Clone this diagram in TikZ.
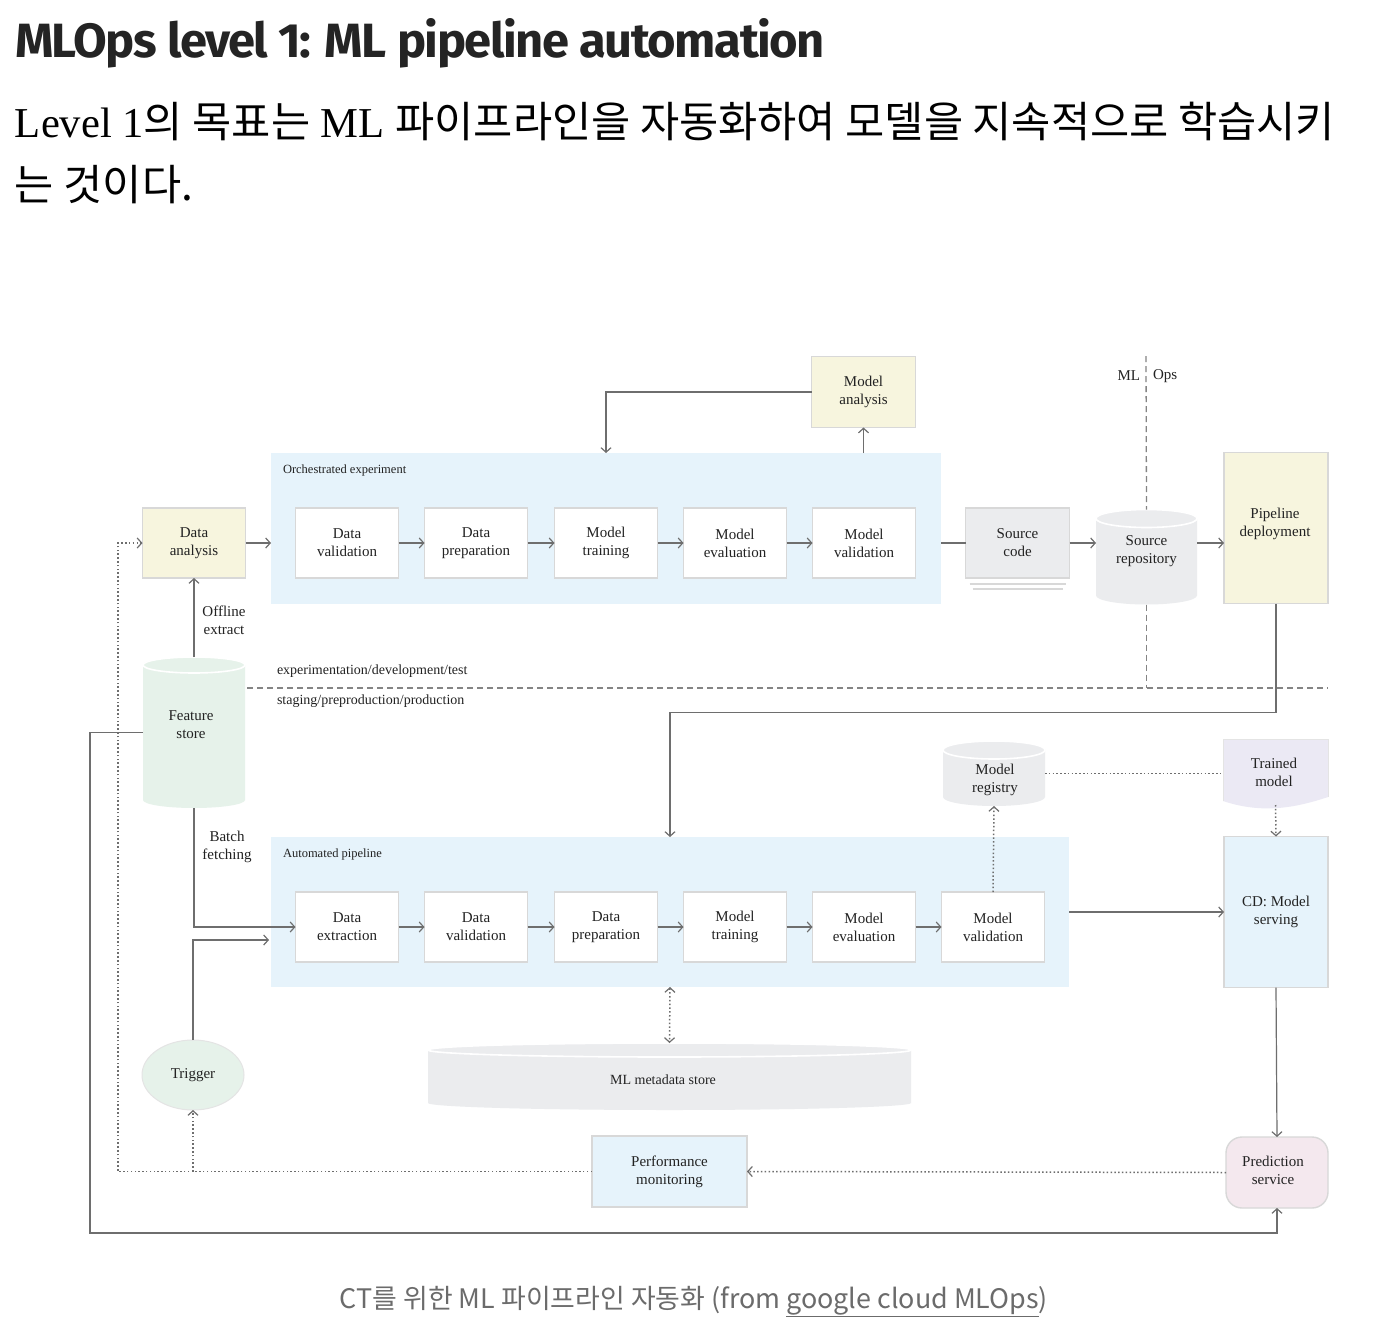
\documentclass[tikz,border=0pt]{standalone}
\usepackage{fontspec}
\setmainfont{Liberation Serif}
\newfontfamily\cjk{Noto Sans CJK KR}
\newfontfamily\titlefont[LetterSpace=-3]{Fira Sans}
\usetikzlibrary{arrows.meta,calc,shapes.geometric}

\definecolor{lineg}{HTML}{6E6E6E}
\definecolor{boxb}{HTML}{D8D8D8}
\definecolor{regblue}{HTML}{E6F3FB}
\definecolor{yel}{HTML}{F7F5DE}
\definecolor{gry}{HTML}{EBECEE}
\definecolor{grn}{HTML}{E6F2EA}
\definecolor{lav}{HTML}{EBE9F4}
\definecolor{pnk}{HTML}{F4E8EE}
\definecolor{capg}{HTML}{6B6B6B}
\definecolor{txt}{HTML}{222222}
\definecolor{ttl}{HTML}{242424}

\newcommand\K[1]{{\cjk #1}}
\newsavebox\lineA
\newsavebox\lineB

% cylinder: name, cx, cy, half width, half height, ry, fill, text
\newcommand\mycyl[8]{%
  \fill[#7] (#2-#4,#3-#5+#6) -- (#2-#4,#3+#5-#6)
     arc[start angle=180,end angle=360,x radius=#4pt,y radius=#6pt]
     -- (#2+#4,#3-#5+#6)
     arc[start angle=0,end angle=180,x radius=#4pt,y radius=#6pt] -- cycle;
  \draw[white,line width=1.6pt,fill=#7] (#2,#3-#5+#6) ellipse[x radius=#4pt,y radius=#6pt];
  \node[minimum width=2*#4pt, minimum height=2*#5pt] (#1) at (#2,#3) {};
}

\begin{document}
\sbox\lineA{\fontsize{36}{40}\selectfont Level 1\K{의 목표는} ML \K{파이프라인을 자동화하여 모델을 지속적으로 학습시키}}
\sbox\lineB{\fontsize{36}{40}\selectfont \K{는 것이다.}}
\begin{tikzpicture}[x=1pt,y=-1pt,
  every node/.style={inner sep=0pt, outer sep=0pt, align=center, text=txt,
     font=\fontsize{15}{18}\selectfont},
  proc/.style={draw=boxb, line width=1.4pt, fill=white, minimum width=103pt, minimum height=70pt},
  yelbox/.style={proc, fill=yel},
  conn/.style={draw=lineg, line width=1.2pt},
  arr/.style={conn, -{Straight Barb[length=4.5pt,width=10pt,line width=1.2pt]}},
  dotl/.style={conn, line width=1.5pt, dash pattern=on 1.5pt off 2.3pt},
  dotarr/.style={dotl, -{Straight Barb[length=4.5pt,width=10pt,line width=1.2pt]}},
  dashg/.style={draw=lineg!85, line width=1.3pt, dash pattern=on 6pt off 4pt},
  lbl/.style={font=\fontsize{14}{17}\selectfont},
  small/.style={font=\fontsize{12.5}{15}\selectfont}
]
\fill[white] (0,0) rectangle (1374,1338);
\useasboundingbox (0,0) rectangle (1374,1338);

% ---------- header texts ----------
\node[anchor=base west, text=ttl] (title) at (15,57)
  {\resizebox{810pt}{39pt}{\titlefont\bfseries MLOps level 1: ML pipeline automation}};
\pgfmathsetmacro\kfac{1320/\the\wd\lineA}
\node[anchor=base west, text=ttl] (para1) at (15,137) {\scalebox{\kfac}{\usebox\lineA}};
\node[anchor=base west, text=ttl] (para2) at (15,200) {\scalebox{\kfac}{\usebox\lineB}};
\node[anchor=base, text=capg] (caption) at (694,1308)
  {\resizebox{708pt}{!}{\cjk\fontsize{24}{28}\selectfont CT를 위한 ML 파이프라인 자동화 (from \underline{google cloud MLOps})}};

% ---------- regions ----------
\node[fill=regblue, minimum width=670pt, minimum height=151pt] (orch) at (606,528.5) {};
\node[small, anchor=west] (orchlbl) at (283,470) {Orchestrated experiment};
\node[fill=regblue, minimum width=798pt, minimum height=150pt] (ap) at (670,912) {};
\node[small, anchor=west] (aplbl) at (283,854) {Automated pipeline};

% ---------- top row ----------
\node[yelbox] (da) at (194,543) {Data\\analysis};
\node[proc] (dv1) at (347,543) {Data\\validation};
\node[proc] (dp1) at (476,543) {Data\\preparation};
\node[proc] (mt1) at (606,543) {Model\\training};
\node[proc] (me1) at (735,543) {Model\\evaluation};
\node[proc] (mv1) at (864,543) {Model\\validation};
\node[yelbox, minimum width=104pt, minimum height=71pt] (ma) at (863.5,392) {Model\\analysis};
\node[proc, fill=gry, minimum width=104pt] (sc) at (1017.5,543) {Source\\code};
\draw[boxb, line width=1.3pt] ($(sc.south west)+(4,6)$) -- ($(sc.south east)+(-4,6)$);
\draw[boxb, line width=1.3pt] ($(sc.south west)+(7,11)$) -- ($(sc.south east)+(-7,11)$);
\mycyl{sr}{1146.5}{557}{50.5}{47.5}{9}{gry}{}
\node (srt) at (1146.5,551) {Source\\repository};
\node[yelbox, minimum width=104pt, minimum height=151pt] (pd) at (1276,528) {};
\node (pdt) at (1275,524) {Pipeline\\deployment};

% ---------- ML / Ops divider ----------
\coordinate (mlopsTop) at (1146,356);
\node[anchor=east] (mllbl) at (1140,376) {ML};
\node[anchor=west] (opslbl) at (1153,376) {Ops};
\draw[dashg] (mlopsTop) -- (sr.north);
\coordinate (sepL) at (247,688);
\coordinate (sepR) at (1328,688);
\draw[dashg] (sr.south) -- (sr.south |- sepL);
\draw[dashg] (sepL) -- (sepR);
\node[lbl, anchor=west] (envtop) at (277,671) {experimentation/development/test};
\node[lbl, anchor=west] (envbot) at (277,701) {staging/preproduction/production};

% ---------- feature store ----------
\mycyl{fs}{194}{732.5}{51}{75.5}{8}{grn}{}
\node (fst) at (191,725) {Feature\\store};
\node (offl) at (224,620) {Offline\\extract};
\node (batch) at (227,847) {Batch\\fetching};

% ---------- bottom row ----------
\node[proc] (de) at (347,927) {Data\\extraction};
\node[proc] (dv2) at (476,927) {Data\\validation};
\node[proc] (dp2) at (606,927) {Data\\preparation};
\node[proc] (mt2) at (735,927) {Model\\training};
\node[proc] (me2) at (864,927) {Model\\evaluation};
\node[proc] (mv2) at (993,927) {Model\\validation};

\mycyl{mr}{994}{773.5}{51}{32.5}{9}{gry}{}
\node (mrt) at (995,780) {Model\\registry};

% trained model (document shape)
\node[minimum width=105pt, minimum height=66pt] (tm) at (1275.5,772) {};
\fill[lav] (1223,739) -- (1328,739) -- (1328,797)
   .. controls (1295,808) and (1262,814) .. (1223,801) -- cycle;
\draw[boxb!70, line width=1pt] (1223,801) -- (1223,739) -- (1328,739) -- (1328,797);
\node (tmt) at (1274,772) {Trained\\model};

\node[proc, fill=regblue, minimum width=104pt, minimum height=151pt] (cd) at (1276,912) {CD: Model\\serving};

\node[ellipse, draw=boxb!70, line width=1pt, fill=grn, minimum width=102pt, minimum height=70pt] (tr) at (193,1075) {Trigger};

\mycyl{mds}{669.5}{1076.5}{241.5}{33.5}{7}{gry}{}
\node[lbl] (mdst) at (663,1080) {ML metadata store};

\node[proc, fill=regblue, minimum width=155pt, minimum height=71pt] (pm) at (669.5,1171.5) {Performance\\monitoring};
\node[draw=boxb, line width=1.4pt, fill=pnk, rounded corners=16pt, minimum width=102pt, minimum height=71pt] (ps) at (1277,1172.5) {};
\node (pst) at (1273,1170) {Prediction\\service};

% ---------- connectors ----------
\draw[arr] (da.east) -- (da.east -| orch.west);
\draw[arr] (dv1) -- (dp1);
\draw[arr] (dp1) -- (mt1);
\draw[arr] (mt1) -- (me1);
\draw[arr] (me1) -- (mv1);
\draw[conn] (sc.west -| orch.east) -- (sc.west);
\draw[arr] (sc.east) -- (sc.east -| sr.west);
\draw[arr] (sc.east -| sr.east) -- (sc.east -| pd.west);
\draw[arr] (ma.south |- orch.north) -- (ma.south);
\draw[arr] (ma.west) -| (orch.north);
\draw[arr] (fs.north) -- (da.south);
\draw[arr] (pd.south) -- ++(0,109) -| (ap.north);
\draw[dotl] (mr.east) -- (mr.east -| tm.west);
\draw[dotarr] (tm.south) -- (cd.north);
\draw[dotarr] (mv2.north) -- (mr.south);
\draw[arr] (ap.east) -- (cd.west);
\draw[arr] (de) -- (dv2);
\draw[arr] (dv2) -- (dp2);
\draw[arr] (dp2) -- (mt2);
\draw[arr] (mt2) -- (me2);
\draw[arr] (me2) -- (mv2);
\draw[arr] (fs.south) |- (de.west);
\draw[arr] (tr.north) |- ($(ap.west)+(-2,28)$);
\draw[dotl, {Straight Barb[length=4.5pt,width=10pt,line width=1.2pt]}-{Straight Barb[length=4.5pt,width=10pt,line width=1.2pt]}] (ap.south) -- (mds.north);
\draw[arr] (cd.south) -- (ps.north);
\draw[dotarr] (ps.west) -- (pm.east);
\coordinate (fbx) at (118,0);
\draw[dotarr] (pm.west) -- (pm.west -| fbx) -- (fbx |- da.west) -- (da.west);
\draw[dotarr] (tr.south |- pm.west) -- (tr.south);
\coordinate (loopBL) at (90,1233);
\draw[arr] (fs.west) -| (loopBL) -| (ps.south);
\end{tikzpicture}
\end{document}
